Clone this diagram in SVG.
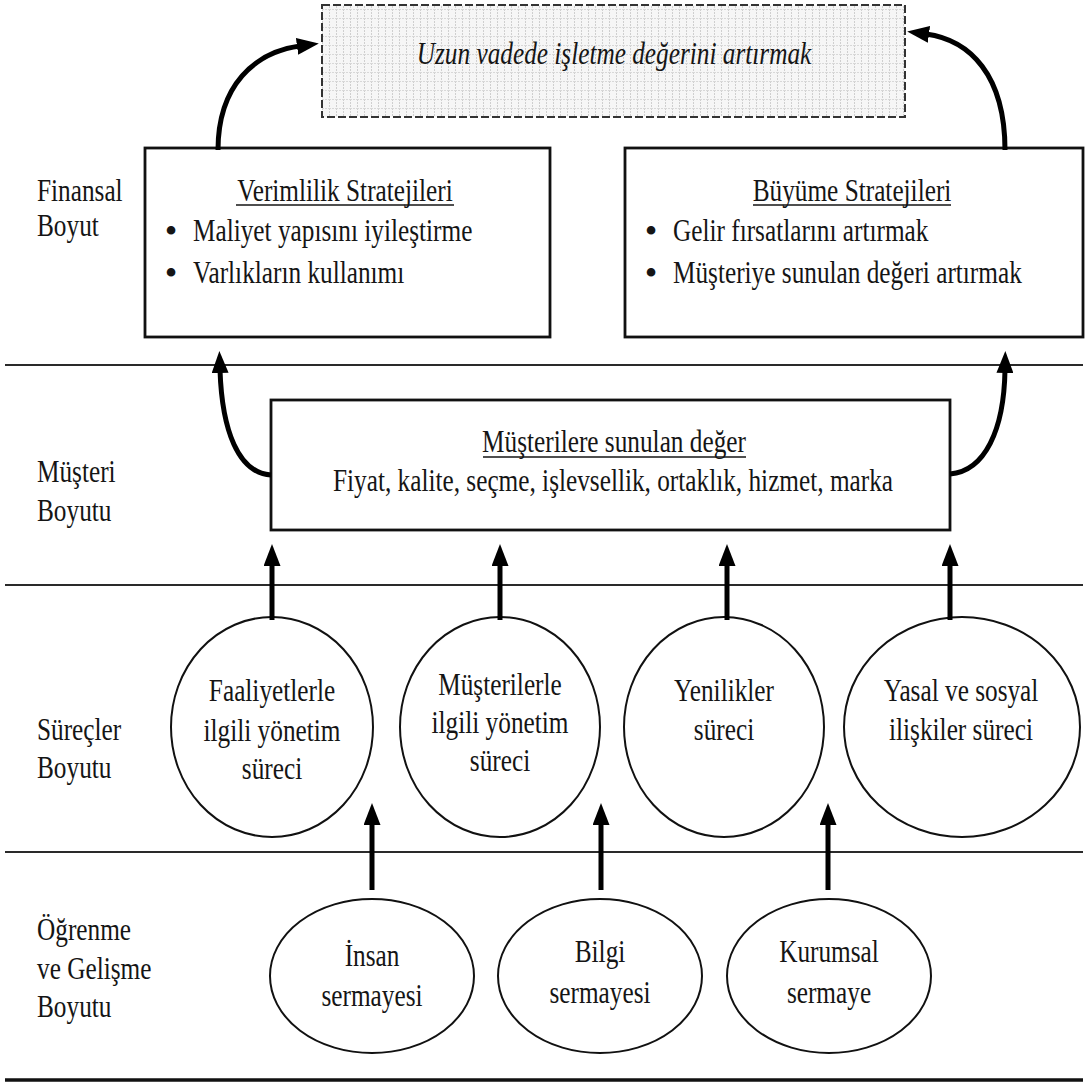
<svg xmlns="http://www.w3.org/2000/svg" width="1086" height="1091" viewBox="0 0 1086 1091">
  <style>
    .t { font-family: "Liberation Serif", "Times New Roman", serif; font-size: 32px; fill: #151515; }
    .it { font-style: italic; }
    .mid { text-anchor: middle; }
    .dot { font-family: "Liberation Serif", "Times New Roman", serif; font-size: 36px; fill: #151515; text-anchor: middle; }
    .box { fill: #ffffff; stroke: #111; stroke-width: 2.8; }
    .oval { fill: #ffffff; stroke: #111; stroke-width: 2; }
    .rule { stroke: #2a2a2a; stroke-width: 2; }
    .ul { stroke: #151515; stroke-width: 1.5; }
    .arrow { fill: none; stroke: #000; stroke-width: 5; marker-end: url(#head); }
  </style>
  <defs>
    <pattern id="grid" width="7" height="9" patternUnits="userSpaceOnUse">
      <rect width="7" height="9" fill="#f6f6f6"/>
      <path d="M0.5 0V9" stroke="#cfcfcf" stroke-width="1" stroke-dasharray="2 1"/>
      <path d="M0 0.5H7" stroke="#d8d8d8" stroke-width="1" stroke-dasharray="2 1"/>
    </pattern>
    <marker id="head" viewBox="0 0 22 17" markerWidth="22" markerHeight="17" refX="3" refY="8.5" orient="auto" markerUnits="userSpaceOnUse">
      <path d="M0 0L22 8.5L0 17z" fill="#000"/>
    </marker>
  </defs>

  <!-- layer separators -->
  <g id="rules">
    <line class="rule" x1="5" y1="365" x2="1083" y2="365"/>
    <line class="rule" x1="5" y1="585" x2="1083" y2="585"/>
    <line class="rule" x1="5" y1="852" x2="1083" y2="852"/>
    <line x1="5" y1="1080" x2="1083" y2="1080" stroke="#111" stroke-width="3.5"/>
  </g>

  <!-- perspective labels -->
  <g id="labels">
    <text class="t" transform="translate(37 201) scale(0.79 1)">Finansal</text>
    <text class="t" transform="translate(37 236) scale(0.79 1)">Boyut</text>
    <text class="t" transform="translate(37 482) scale(0.79 1)">Müşteri</text>
    <text class="t" transform="translate(37 521) scale(0.79 1)">Boyutu</text>
    <text class="t" transform="translate(37 740) scale(0.79 1)">Süreçler</text>
    <text class="t" transform="translate(37 778) scale(0.79 1)">Boyutu</text>
    <text class="t" transform="translate(37 940) scale(0.79 1)">Öğrenme</text>
    <text class="t" transform="translate(37 979) scale(0.79 1)">ve Gelişme</text>
    <text class="t" transform="translate(37 1017) scale(0.79 1)">Boyutu</text>
  </g>

  <!-- goal -->
  <g id="goal">
    <rect x="322" y="5" width="583" height="112" fill="url(#grid)" stroke="#333" stroke-width="2" stroke-dasharray="8 3"/>
    <text class="t it mid" transform="translate(614 64) scale(0.79 1)">Uzun vadede işletme değerini artırmak</text>
  </g>

  <!-- financial strategies -->
  <g id="verimlilik">
    <rect class="box" x="145" y="148" width="405" height="189"/>
    <text class="t mid" transform="translate(345 201) scale(0.79 1)">Verimlilik Stratejileri</text>
    <line class="ul" x1="236" y1="205" x2="454" y2="205"/>
    <text class="dot" x="171" y="243">•</text>
    <text class="t" transform="translate(193 241) scale(0.79 1)">Maliyet yapısını iyileştirme</text>
    <text class="dot" x="171" y="285">•</text>
    <text class="t" transform="translate(193 283) scale(0.79 1)">Varlıkların kullanımı</text>
  </g>

  <g id="buyume">
    <rect class="box" x="625" y="148" width="458" height="189"/>
    <text class="t mid" transform="translate(852 201) scale(0.79 1)">Büyüme Stratejileri</text>
    <line class="ul" x1="753" y1="205" x2="951" y2="205"/>
    <text class="dot" x="651" y="243">•</text>
    <text class="t" transform="translate(673 241) scale(0.79 1)">Gelir fırsatlarını artırmak</text>
    <text class="dot" x="651" y="285">•</text>
    <text class="t" transform="translate(673 283) scale(0.79 1)">Müşteriye sunulan değeri artırmak</text>
  </g>

  <!-- customer value -->
  <g id="musteri-degeri">
    <rect class="box" x="271" y="400" width="679" height="130"/>
    <text class="t mid" transform="translate(614 452) scale(0.79 1)">Müşterilere sunulan değer</text>
    <line class="ul" x1="483" y1="457" x2="746" y2="457"/>
    <text class="t mid" transform="translate(613 491) scale(0.79 1)">Fiyat, kalite, seçme, işlevsellik, ortaklık, hizmet, marka</text>
  </g>

  <!-- internal processes -->
  <g id="faaliyet">
    <ellipse class="oval" cx="272" cy="727" rx="101" ry="110"/>
    <text class="t mid" transform="translate(272 701) scale(0.79 1)">Faaliyetlerle</text>
    <text class="t mid" transform="translate(272 741) scale(0.79 1)">ilgili yönetim</text>
    <text class="t mid" transform="translate(272 779) scale(0.79 1)">süreci</text>
  </g>
  <g id="musteri-yonetim">
    <ellipse class="oval" cx="500" cy="727" rx="100" ry="110"/>
    <text class="t mid" transform="translate(500 695) scale(0.79 1)">Müşterilerle</text>
    <text class="t mid" transform="translate(500 733) scale(0.79 1)">ilgili yönetim</text>
    <text class="t mid" transform="translate(500 771) scale(0.79 1)">süreci</text>
  </g>
  <g id="yenilik">
    <ellipse class="oval" cx="724" cy="727" rx="100" ry="110"/>
    <text class="t mid" transform="translate(724 701) scale(0.79 1)">Yenilikler</text>
    <text class="t mid" transform="translate(724 740) scale(0.79 1)">süreci</text>
  </g>
  <g id="yasal">
    <ellipse class="oval" cx="962" cy="727" rx="118" ry="110"/>
    <text class="t mid" transform="translate(961 701) scale(0.79 1)">Yasal ve sosyal</text>
    <text class="t mid" transform="translate(961 740) scale(0.79 1)">ilişkiler süreci</text>
  </g>

  <!-- learning and growth -->
  <g id="insan">
    <ellipse class="oval" cx="372" cy="976" rx="102" ry="77"/>
    <text class="t mid" transform="translate(372 966) scale(0.79 1)">İnsan</text>
    <text class="t mid" transform="translate(372 1006) scale(0.79 1)">sermayesi</text>
  </g>
  <g id="bilgi">
    <ellipse class="oval" cx="600" cy="976" rx="102" ry="77"/>
    <text class="t mid" transform="translate(600 962) scale(0.79 1)">Bilgi</text>
    <text class="t mid" transform="translate(600 1003) scale(0.79 1)">sermayesi</text>
  </g>
  <g id="kurumsal">
    <ellipse class="oval" cx="829" cy="976" rx="102" ry="77"/>
    <text class="t mid" transform="translate(829 962) scale(0.79 1)">Kurumsal</text>
    <text class="t mid" transform="translate(829 1003) scale(0.79 1)">sermaye</text>
  </g>

  <!-- connectors -->
  <g id="connectors">
    <path class="arrow" d="M218 150C218 85 255 52 300 46"/>
    <path class="arrow" d="M1005 150C1005 75 970 40 926 34"/>
    <path class="arrow" d="M271 475C238 473 222 430 220 370"/>
    <path class="arrow" d="M950 474C985 471 1004 430 1005 370"/>
    <path class="arrow" d="M272 620V563"/>
    <path class="arrow" d="M500 620V563"/>
    <path class="arrow" d="M727 620V563"/>
    <path class="arrow" d="M950 620V563"/>
    <path class="arrow" d="M372 890V822"/>
    <path class="arrow" d="M601 890V822"/>
    <path class="arrow" d="M828 890V822"/>
  </g>
</svg>
